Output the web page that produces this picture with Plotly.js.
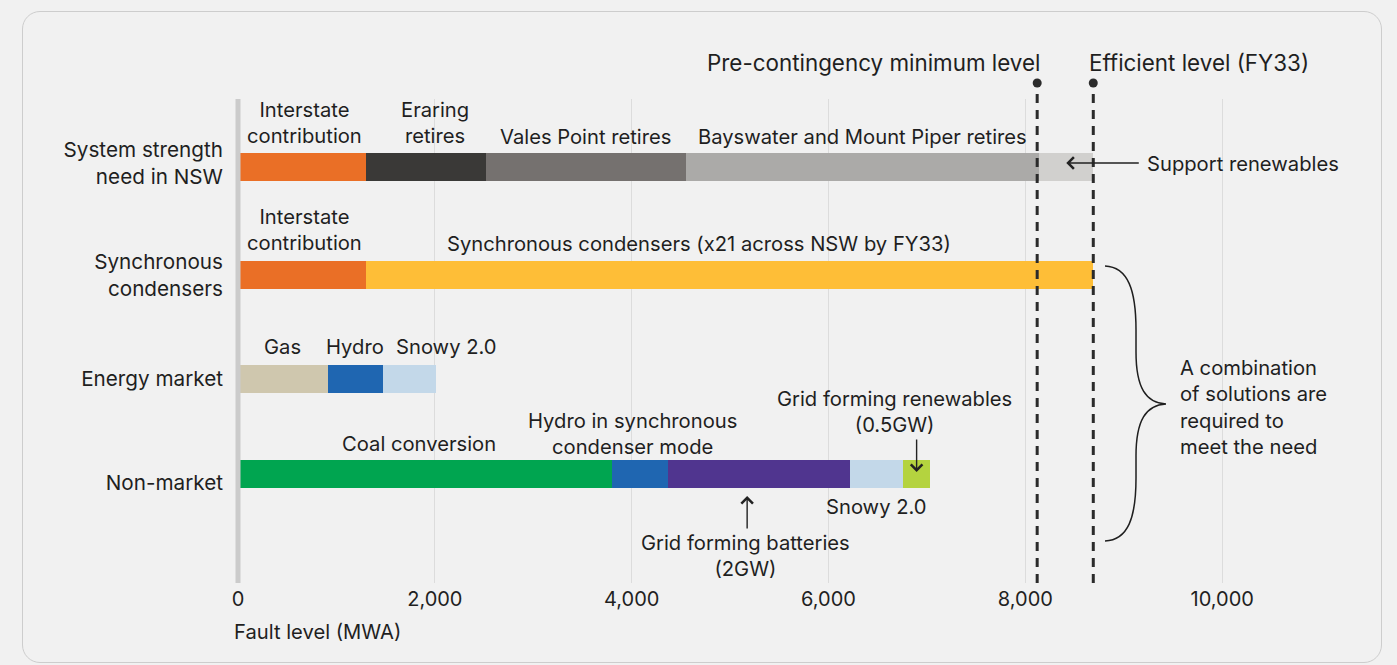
<!DOCTYPE html>
<html>
<head>
<meta charset="utf-8">
<script src="https://cdn.plot.ly/plotly-3.0.1.min.js"></script>
<style>
  html, body { margin: 0; padding: 0; background: #f1f1f1; }
  #card  { position: absolute; left: 22px; top: 11px; width: 1358px; height: 650px;
           border: 1.5px solid #cdcdcd; border-radius: 18px; }
  #chart { position: absolute; left: 0; top: 0; width: 1397px; height: 665px; }
</style>
</head>
<body>
<div id="card"></div>
<div id="chart"></div>
<script>
/*****************************************************
 * Data (fault level, MWA)
 *****************************************************/
const rowLabels = ['System strength<br>need in NSW', 'Synchronous<br>condensers', 'Energy market', 'Non-market'];

const needLabels = ['Interstate<br>contribution', 'Eraring<br>retires', 'Vales Point retires',
                    'Bayswater and Mount Piper retires', 'Support renewables'];
const needValues = [1300, 1220, 2030, 3590, 550];

const syncLabels = ['Interstate<br>contribution', 'Synchronous condensers (x21 across NSW by FY33)'];
const syncValues = [1300, 7390];

const marketLabels = ['Gas', 'Hydro', 'Snowy 2.0'];
const marketValues = [910, 560, 540];

const nonMarketLabels = ['Coal conversion', 'Hydro in synchronous<br>condenser mode', 'Grid forming batteries<br>(2GW)',
                         'Snowy 2.0', 'Grid forming renewables<br>(0.5GW)'];
const nonMarketValues = [3800, 570, 1850, 540, 270];

const preContingency = 8120;   // Pre-contingency minimum level
const efficientLevel = 8690;   // Efficient level (FY33)

const xTicks = [0, 2000, 4000, 6000, 8000, 10000];

/*****************************************************
 * Styles / layout helpers
 *****************************************************/
const FONT = 'Inter, "Noto Sans", sans-serif';
const INK = '#1f1f1f';
const TXT = 20.2, HEAD = 22.4;
const needColors      = ['#EA6F26', '#3A3937', '#75716F', '#ABAAA8', '#D1D0CE'];
const syncColors      = ['#EA6F26', '#FEBE37'];
const marketColors    = ['#CFC7AE', '#1F66B1', '#C3D8E9'];
const nonMarketColors = ['#00A550', '#1F66B1', '#50358F', '#C3D8E9', '#B4D33F'];

// rows are not evenly spaced in the original; row names sit a touch off the bar centres
const rowPos = [0, 1.055, 2.072, 3];
const rowLabelPos = [-0.04, 1.055, 2.072, 3.09];

// plot area in pixels (used for the paper-positioned extras)
const M = { l: 238, r: 37, t: 99, b: 82 };
const W = 1397, H = 665;
const plotW = W - M.l - M.r, plotH = H - M.t - M.b;
const px = x => (x - M.l) / plotW;
const py = y => (H - M.b - y) / plotH;

// Build one stacked trace per segment
const traces = [];
function addRow(row, labels, values, colors) {
  values.forEach((v, i) => {
    traces.push({
      type: 'bar',
      orientation: 'h',
      x: [v],
      y: [rowPos[row]],
      width: 0.274,
      marker: { color: colors[i], line: { width: 0 } },
      name: labels[i].replace('<br>', ' '),
      hoverinfo: 'name+x'
    });
  });
}
addRow(0, needLabels, needValues, needColors);
addRow(1, syncLabels, syncValues, syncColors);
addRow(2, marketLabels, marketValues, marketColors);
addRow(3, nonMarketLabels, nonMarketValues, nonMarketColors);

// segment midpoints for label placement
function mids(values) {
  let s = 0;
  return values.map(v => { const m = s + v / 2; s += v; return m; });
}
const needMid = mids(needValues);
const syncMid = mids(syncValues);
const marketMid = mids(marketValues);
const nonMarketMid = mids(nonMarketValues);

function label(text, x, row, yshift, xshift, extra) {
  return Object.assign({
    text: text, x: x, y: rowPos[row], xref: 'x', yref: 'y',
    showarrow: false, yshift: yshift, xshift: xshift || 0,
    font: { family: FONT, size: TXT, color: INK }
  }, extra || {});
}
function arrow(x, row, yshift, xshift, ax, ay) {
  return {
    text: '', x: x, y: rowPos[row], xref: 'x', yref: 'y',
    yshift: yshift, xshift: xshift, ax: ax, ay: ay,
    showarrow: true, arrowhead: 4, arrowsize: 1.6, arrowwidth: 1.4, arrowcolor: '#222'
  };
}

const annotations = [
  // System strength need
  label(needLabels[0], needMid[0], 0, 45, 3),
  label(needLabels[1], needMid[1], 0, 45, 9),
  label(needLabels[2], needMid[2], 0, 31),
  label(needLabels[3], needMid[3], 0, 31),
  label(needLabels[4], efficientLevel, 0, 4, 52, { xanchor: 'left' }),
  arrow(efficientLevel, 0, 4, -27, 74, 0),
  // Synchronous condensers
  label(syncLabels[0], syncMid[0], 1, 45, 3),
  label(syncLabels[1], syncMid[1], 1, 31, -31),
  // Energy market
  label(marketLabels[0], marketMid[0], 2, 33),
  label(marketLabels[1], marketMid[1], 2, 33),
  label(marketLabels[2], marketMid[2], 2, 33, 37),
  // Non-market
  label(nonMarketLabels[0], nonMarketMid[0], 3, 31, -6),
  label(nonMarketLabels[1], nonMarketMid[1], 3, 41, -8),
  label(nonMarketLabels[2], nonMarketMid[2], 3, -81, -14),
  label(nonMarketLabels[3], nonMarketMid[3], 3, -32),
  label(nonMarketLabels[4], nonMarketMid[4], 3, 63, -22),
  arrow(nonMarketMid[2], 3, -22, -12, 0, 34),
  arrow(nonMarketMid[4], 3, 2, 0, 0, -34),
  // reference levels
  { text: 'Pre-contingency minimum level', x: preContingency, xref: 'x', xanchor: 'right', xshift: 6,
    y: py(62), yref: 'paper', yanchor: 'middle', showarrow: false,
    font: { family: FONT, size: HEAD, color: INK } },
  { text: 'Efficient level (FY33)', x: efficientLevel, xref: 'x', xanchor: 'left', xshift: -6,
    y: py(62), yref: 'paper', yanchor: 'middle', showarrow: false,
    font: { family: FONT, size: HEAD, color: INK } },
  // brace note
  { text: 'A combination<br>of solutions are<br>required to<br>meet the need', align: 'left',
    x: px(1178), xref: 'paper', xanchor: 'left', y: py(407), yref: 'paper', yanchor: 'middle',
    showarrow: false, font: { family: FONT, size: TXT, color: INK } },
  // x axis title, left aligned
  { text: 'Fault level (MWA)', x: 0, xref: 'paper', xanchor: 'left', xshift: -6,
    y: py(631), yref: 'paper', yanchor: 'middle', showarrow: false,
    font: { family: FONT, size: TXT, color: INK } }
];

function levelLine(x) {
  return { type: 'line', xref: 'x', yref: 'paper', x0: x, x1: x, y0: 0, y1: py(84),
           line: { color: '#2b2b2b', width: 3, dash: '9px,7px' } };
}
function levelDot(x) {
  return { type: 'circle', xref: 'x', yref: 'paper', xsizemode: 'pixel', ysizemode: 'pixel',
           xanchor: x, yanchor: py(83), x0: -4.5, x1: 4.5, y0: -4.5, y1: 4.5,
           fillcolor: '#2b2b2b', line: { width: 0 } };
}

// curly brace on the right
const bracePath = [
  'M', px(1105), py(266),
  'C', px(1128), py(267), px(1136), py(290), px(1136), py(330),
  'L', px(1136), py(352),
  'C', px(1136), py(388), px(1146), py(403), px(1166), py(404),
  'C', px(1146), py(405), px(1136), py(420), px(1136), py(456),
  'L', px(1136), py(478),
  'C', px(1136), py(518), px(1128), py(540), px(1105), py(541)
].map(v => typeof v === 'number' ? v.toFixed(5) : v).join(' ');

const shapes = [
  // thick grey value axis at 0, drawn over the bars
  { type: 'line', xref: 'paper', yref: 'paper', x0: 0, x1: 0, y0: 0, y1: 1,
    line: { color: '#cbcbcb', width: 5 } },
  levelLine(preContingency), levelLine(efficientLevel),
  levelDot(preContingency), levelDot(efficientLevel),
  { type: 'path', xref: 'paper', yref: 'paper', path: bracePath,
    line: { color: '#1f1f1f', width: 1.5 } }
];

const layout = {
  width: W, height: H,
  margin: M,
  paper_bgcolor: 'rgba(0,0,0,0)',
  plot_bgcolor: 'rgba(0,0,0,0)',
  barmode: 'stack',
  showlegend: false,
  font: { family: FONT, size: TXT, color: INK },
  xaxis: {
    range: [0, 11400],
    tickvals: xTicks,
    tickformat: ',d',
    ticks: '',
    ticklabelstandoff: 2,
    tickfont: { family: FONT, size: 20, color: INK },
    showgrid: true, gridcolor: '#dcdcdc', gridwidth: 1,
    zeroline: false, showline: false, fixedrange: true
  },
  yaxis: {
    range: [4.065, -0.6645],
    tickvals: rowLabelPos,
    ticktext: rowLabels,
    ticks: '',
    ticklabelstandoff: 14,
    tickfont: { family: FONT, size: 20.7, color: INK },
    showgrid: false, zeroline: false, showline: false, fixedrange: true
  },
  annotations: annotations,
  shapes: shapes
};

Plotly.newPlot('chart', traces, layout, { displayModeBar: false, staticPlot: true });
</script>
</body>
</html>
